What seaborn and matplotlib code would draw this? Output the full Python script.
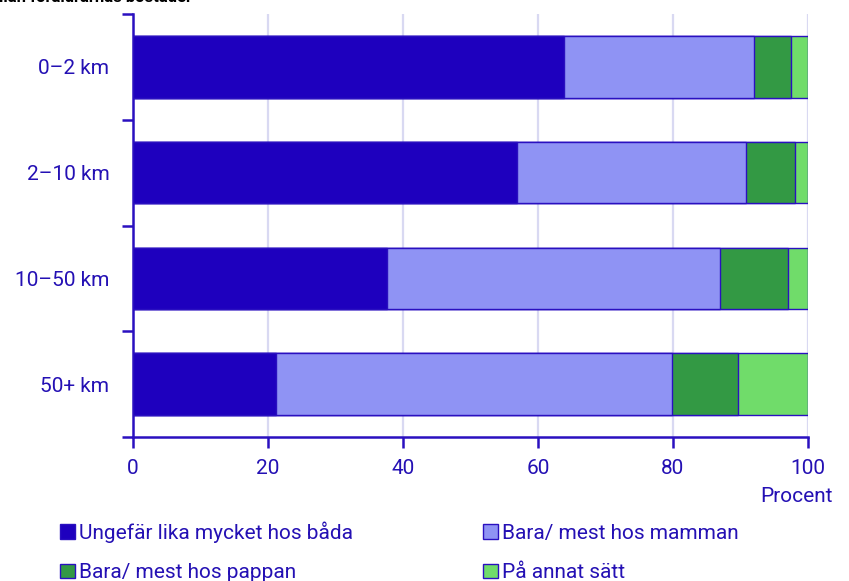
import numpy as np
import pandas as pd
import matplotlib
matplotlib.use('Agg')
import matplotlib.pyplot as plt
import seaborn as sns
from matplotlib.patches import Patch
from matplotlib.ticker import FixedLocator

# data (percent per distance group)
avstand = ['0–2 km', '2–10 km', '10–50 km', '50+ km']
lika = [63.9, 56.9, 37.7, 21.2]
mamman = [28.1, 33.9, 49.3, 58.6]
pappan = [5.5, 7.2, 10.1, 9.9]
annat = [2.5, 2.0, 2.9, 10.3]

serie_namn = ['Ungefär lika mycket hos båda', 'Bara/ mest hos mamman',
              'Bara/ mest hos pappan', 'På annat sätt']
farger = ['#1e00be', '#8f93f4', '#339944', '#70dc6a']
kant = '#2a10c0'
textfarg = '#2410b4'
gridfarg = '#d9d9f2'

sns.set_theme(style='white')
plt.rcParams['font.family'] = ['Roboto', 'DejaVu Sans']
plt.rcParams['font.size'] = 15

df = pd.DataFrame({'avstand': avstand, 'lika': lika, 'mamman': mamman,
                   'pappan': pappan, 'annat': annat})
# cumulative sums so the bars can be stacked by overdrawing
kum = df[['lika', 'mamman', 'pappan', 'annat']].cumsum(axis=1)

fig = plt.figure(figsize=(8.49, 5.81), dpi=100)
ax = fig.add_axes([133 / 849, 144 / 581, 675 / 849, 423 / 581])

for kol, farg in zip(['annat', 'pappan', 'mamman', 'lika'], farger[::-1]):
    sns.barplot(x=kum[kol], y=df['avstand'], orient='h', color=farg, saturation=1,
                width=0.58, edgecolor=kant, linewidth=1.0, ax=ax, zorder=3)

ax.set_xlim(0, 100)
ax.set_ylim(3.5, -0.5)
ax.set_xticks([0, 20, 40, 60, 80, 100])
ax.set_xlabel('')
ax.set_ylabel('')
ax.xaxis.grid(True, color=gridfarg, linewidth=1.6, zorder=0)
ax.yaxis.grid(False)
ax.set_axisbelow(True)

sns.despine(ax=ax, top=True, right=True)
for s in ['left', 'bottom']:
    ax.spines[s].set_color(kant)
    ax.spines[s].set_linewidth(1.8)

ax.yaxis.set_minor_locator(FixedLocator([-0.5, 0.5, 1.5, 2.5, 3.5]))
ax.tick_params(axis='y', which='major', length=0, pad=17, labelcolor=textfarg, labelsize=15)
ax.tick_params(axis='y', which='minor', left=True, length=8, width=1.8, color=kant)
ax.tick_params(axis='x', which='major', bottom=True, length=8, width=1.8, color=kant,
               pad=8, labelcolor=textfarg, labelsize=15)

fig.text(833 / 849, 1 - 497 / 581, 'Procent', ha='right', va='center',
         color=textfarg, fontsize=15)

# title is cut off at the top edge in the reference
fig.text(192 / 849, 1 - 2.5 / 581, 'Avstånd mellan föräldrarnas bostäder', ha='right',
         va='baseline', color='black', fontsize=12, fontweight='bold')

handles = [Patch(facecolor=farger[i], edgecolor=kant, linewidth=1.0) for i in [0, 2, 1, 3]]
labels = [serie_namn[i] for i in [0, 2, 1, 3]]
fig.legend(handles, labels, ncol=2, loc='upper left', bbox_to_anchor=(60 / 849, 1 - 521 / 581),
           frameon=False, fontsize=15, labelcolor=textfarg, handlelength=0.7,
           handleheight=0.7, handletextpad=0.2, columnspacing=6.25, labelspacing=1.0,
           borderaxespad=0, borderpad=0)

fig.savefig('out.png', dpi=100)
